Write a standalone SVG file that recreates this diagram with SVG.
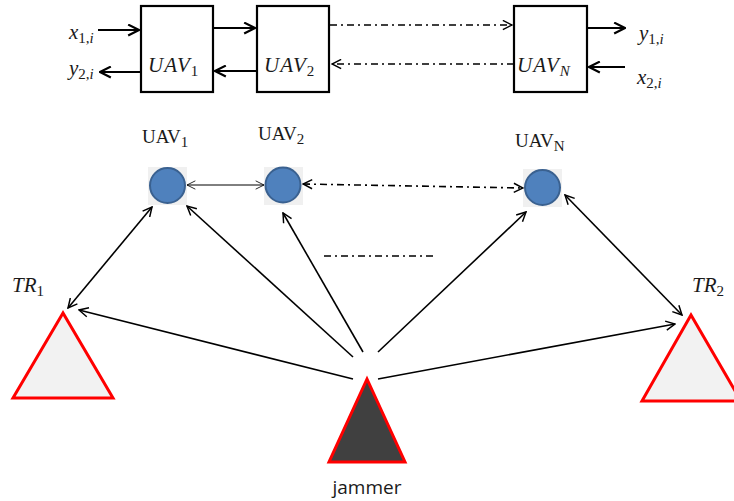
<svg xmlns="http://www.w3.org/2000/svg" width="734" height="501" viewBox="0 0 734 501">
<style>
.box{fill:#fff;stroke:#000;stroke-width:2.2}
.mi{font-family:"Liberation Serif",serif;font-style:italic;font-size:21px;fill:#1a1a1a}
.rm{font-family:"Liberation Serif",serif;font-size:19px;fill:#1a1a1a}
.sub{font-size:15px}
.up{font-style:normal}
.thick{stroke:#000;stroke-width:2;fill:none}
.mid{stroke:#000;stroke-width:1.6;fill:none}
.thin{stroke:#000;stroke-width:1;fill:none}
.dd{stroke-dasharray:7 4 2 4}
.uav{fill:#4f81bd;stroke:#3a6190;stroke-width:2}
.bg{fill:#f0f0f0}
.tri{stroke:#ff0000;stroke-width:3;stroke-linejoin:miter}
.lbl{font-family:"Open Sans","Liberation Sans",sans-serif;font-size:19px;fill:#1a1a1a}
</style>
<defs>
<marker id="ah" viewBox="0 0 12 12" refX="11" refY="6" markerWidth="13" markerHeight="13" orient="auto-start-reverse" markerUnits="userSpaceOnUse">
<path d="M1,1 L11,6 L1,11" fill="none" stroke="#000" stroke-width="2"/>
</marker>
<marker id="ahs" viewBox="0 0 12 12" refX="11" refY="6" markerWidth="11" markerHeight="11" orient="auto-start-reverse" markerUnits="userSpaceOnUse">
<path d="M1,1 L11,6 L1,11" fill="none" stroke="#000" stroke-width="1.6"/>
</marker>
<marker id="aht" viewBox="0 0 12 12" refX="11" refY="6" markerWidth="10" markerHeight="10" orient="auto-start-reverse" markerUnits="userSpaceOnUse">
<path d="M1,1 L11,6 L1,11" fill="none" stroke="#000" stroke-width="1"/>
</marker>
</defs>

<!-- top chain -->
<g id="box-uav1">
<rect class="box" x="141" y="6" width="72" height="86"/>
<text class="mi" x="148" y="72" letter-spacing="1">UAV<tspan class="sub up" dy="4">1</tspan></text>
</g>
<g id="box-uav2">
<rect class="box" x="257" y="6" width="72" height="86"/>
<text class="mi" x="264" y="72" letter-spacing="1">UAV<tspan class="sub up" dy="4">2</tspan></text>
</g>
<g id="box-uavn">
<rect class="box" x="514" y="6" width="73" height="86"/>
<text class="mi" x="517" y="72" letter-spacing="1">UAV<tspan class="sub" dy="4">N</tspan></text>
</g>
<g id="io-labels">
<text class="mi" x="69" y="39">x<tspan class="sub up" dy="4">1,</tspan><tspan class="sub">i</tspan></text>
<text class="mi" x="69" y="75">y<tspan class="sub up" dy="4">2,</tspan><tspan class="sub">i</tspan></text>
<text class="mi" x="639" y="40">y<tspan class="sub up" dy="4">1,</tspan><tspan class="sub">i</tspan></text>
<text class="mi" x="637" y="84">x<tspan class="sub up" dy="4">2,</tspan><tspan class="sub">i</tspan></text>
</g>

<!-- middle UAV nodes -->
<g id="uav1">
<rect class="bg" x="148" y="167" width="39" height="38"/>
<circle class="uav" cx="167.5" cy="185.5" r="17.5"/>
<text class="rm" x="142" y="143">UAV<tspan class="sub" dy="4">1</tspan></text>
</g>
<g id="uav2">
<rect class="bg" x="264" y="167" width="39" height="38"/>
<circle class="uav" cx="283" cy="185" r="17.5"/>
<text class="rm" x="258" y="140">UAV<tspan class="sub" dy="4">2</tspan></text>
</g>
<g id="uavn">
<rect class="bg" x="523" y="169" width="39" height="38"/>
<circle class="uav" cx="542.5" cy="187.5" r="17.5"/>
<text class="rm" x="515" y="147">UAV<tspan class="sub" dy="4">N</tspan></text>
</g>

<!-- ground nodes -->
<g id="tr1">
<polygon class="tri" fill="#f2f2f2" points="63,313 13,398 113,398"/>
<text class="mi" x="12" y="292">TR<tspan class="sub up" dy="4">1</tspan></text>
</g>
<g id="tr2">
<polygon class="tri" fill="#f2f2f2" points="691,315 642,401 741,401"/>
<text class="mi" x="692" y="292">TR<tspan class="sub up" dy="4">2</tspan></text>
</g>
<g id="jammer">
<polygon class="tri" fill="#404040" points="367,379 329,462 405,462"/>
<text class="lbl" x="367" y="494" text-anchor="middle">jammer</text>
</g>

<g id="connectors">
<!-- top chain -->
<line class="thick" x1="98" y1="30" x2="139" y2="30" marker-end="url(#ah)"/>
<line class="thick" x1="141" y1="72" x2="100" y2="72" marker-end="url(#ah)"/>
<line class="thick" x1="213" y1="28" x2="255" y2="28" marker-end="url(#ah)"/>
<line class="thick" x1="257" y1="71" x2="215" y2="71" marker-end="url(#ah)"/>
<line class="mid dd" x1="330" y1="25" x2="512" y2="25" marker-end="url(#ahs)"/>
<line class="mid dd" x1="514" y1="64" x2="332" y2="64" marker-end="url(#ahs)"/>
<line class="thick" x1="587" y1="28" x2="625" y2="28" marker-end="url(#ah)"/>
<line class="thick" x1="625" y1="67" x2="589" y2="67" marker-end="url(#ah)"/>

<!-- UAV links -->
<line class="thin" x1="187" y1="185" x2="264" y2="185" marker-start="url(#aht)" marker-end="url(#aht)"/>
<line class="mid dd" x1="303" y1="184" x2="523" y2="188" marker-start="url(#ahs)" marker-end="url(#ahs)"/>
<line class="mid dd" x1="324" y1="256" x2="437" y2="256"/>

<!-- TR links -->
<line class="mid" x1="68" y1="308" x2="152" y2="207" marker-start="url(#ahs)" marker-end="url(#ahs)"/>
<line class="mid" x1="682" y1="315" x2="565" y2="195" marker-start="url(#ahs)" marker-end="url(#ahs)"/>

<!-- jammer links -->
<line class="mid" x1="353" y1="379" x2="79" y2="310" marker-end="url(#ahs)"/>
<line class="mid" x1="353" y1="357" x2="187" y2="206" marker-end="url(#ahs)"/>
<line class="mid" x1="363" y1="352" x2="283" y2="213" marker-end="url(#ahs)"/>
<line class="mid" x1="378" y1="352" x2="526" y2="212" marker-end="url(#ahs)"/>
<line class="mid" x1="378" y1="379" x2="675" y2="324" marker-end="url(#ahs)"/>
</g>
</svg>
